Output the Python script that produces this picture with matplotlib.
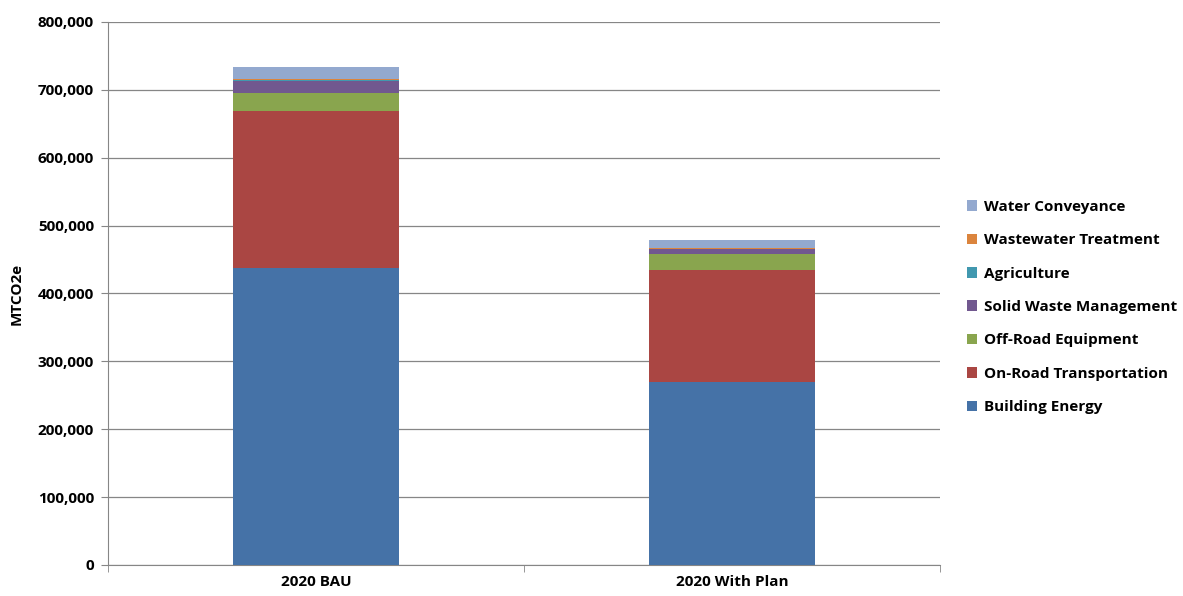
import matplotlib
matplotlib.use("Agg")
import matplotlib.pyplot as plt
from matplotlib.ticker import FuncFormatter, FixedLocator
import numpy as np

plt.rcParams['font.family'] = ['Open Sans', 'DejaVu Sans']

categories = ["2020 BAU", "2020 With Plan"]
series_names = ["Building Energy", "On-Road Transportation", "Off-Road Equipment",
                "Solid Waste Management", "Agriculture", "Wastewater Treatment",
                "Water Conveyance"]
building_energy = [437500, 269600]
on_road = [231300, 165000]
off_road = [26000, 23600]
solid_waste = [19000, 6800]
agriculture = [500, 300]
wastewater = [2000, 1000]
water_conveyance = [17000, 12200]
colors = ["#4572A7", "#AA4643", "#89A54E", "#71588F", "#4198AF", "#DB843D", "#93A9CF"]

series = [building_energy, on_road, off_road, solid_waste, agriculture, wastewater, water_conveyance]

fig = plt.figure(figsize=(11.83, 5.96), dpi=100)
ax = fig.add_axes([108/1183, 1-565/596, (940-108)/1183, (565-22)/596])

x = np.arange(len(categories))
bottom = np.zeros(len(categories))
handles = []
for name, vals, c in zip(series_names, series, colors):
    h = ax.bar(x, vals, 0.4, bottom=bottom, color=c, label=name, zorder=3)
    bottom += np.array(vals)
    handles.append(h)

fs = 11
ax.set_xlim(-0.5, 1.5)
ax.set_ylim(0, 800000)
ax.set_yticks(np.arange(0, 800001, 100000))
ax.yaxis.set_major_formatter(FuncFormatter(lambda v, p: f"{int(v):,}"))
ax.grid(axis='y', color='#868686', linewidth=0.9, zorder=0)
ax.set_xticks(x)
ax.set_xticklabels(categories, fontweight='bold', fontsize=fs)
ax.xaxis.set_minor_locator(FixedLocator([-0.5, 0.5, 1.5]))
ax.tick_params(axis='x', which='major', length=0, pad=7)
ax.tick_params(axis='x', which='minor', length=5, color='#868686')
ax.tick_params(axis='y', length=5, color='#868686', pad=5)
for lab in ax.get_yticklabels():
    lab.set_fontweight('bold')
    lab.set_fontsize(fs)
for s in ['top', 'right']:
    ax.spines[s].set_visible(False)
for s in ['left', 'bottom']:
    ax.spines[s].set_color('#868686')
ax.set_ylabel("MTCO2e", fontweight='bold', fontsize=fs, labelpad=10)

leg = fig.legend(handles[::-1], series_names[::-1], loc='center left',
                 bbox_to_anchor=(953/1183, 1-307/596), frameon=False,
                 prop={'weight': 'bold', 'size': fs}, handlelength=0.7, handleheight=0.7,
                 handletextpad=0.4, labelspacing=1.27)

fig.savefig("out.png", dpi=100)
